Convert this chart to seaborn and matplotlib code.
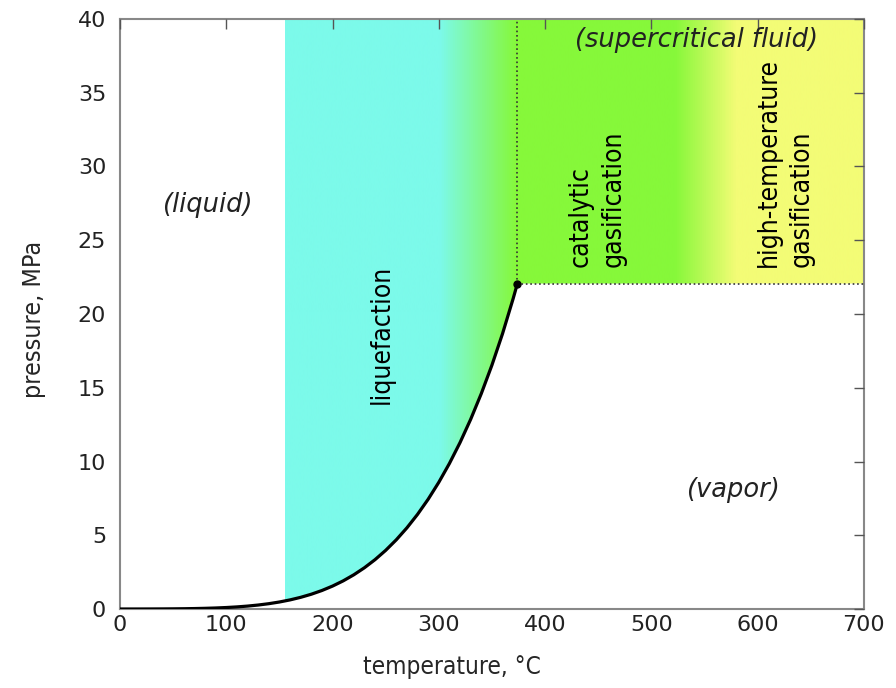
import numpy as np
import matplotlib
matplotlib.use('Agg')
import matplotlib.pyplot as plt
import seaborn as sns
from matplotlib.colors import LinearSegmentedColormap
from matplotlib.patches import Polygon

# saturation curve of water (temperature in C, pressure in MPa)
sat_T = [0, 10, 20, 30, 40, 50, 60, 70, 80, 90, 100, 110, 120, 130, 140, 150, 160,
         170, 180, 190, 200, 210, 220, 230, 240, 250, 260, 270, 280, 290, 300, 310,
         320, 330, 340, 350, 360, 370, 374]
sat_P = [0.0006, 0.0012, 0.0023, 0.0042, 0.0074, 0.0123, 0.0199, 0.0312, 0.0474,
         0.0701, 0.1014, 0.1434, 0.1987, 0.2703, 0.3615, 0.4762, 0.6182, 0.7922,
         1.0028, 1.2552, 1.5549, 1.9077, 2.3196, 2.7971, 3.3469, 3.9762, 4.6923,
         5.5030, 6.4166, 7.4418, 8.5879, 9.8651, 11.284, 12.858, 14.601, 16.529,
         18.666, 21.044, 22.064]
crit_T, crit_P = 374, 22.064

# shaded process band and its colour stops
band_start, band_end, p_top = 155, 700, 40
grad_T = [155, 300, 372, 522, 580, 700]
grad_colors = ['#7cfaea', '#7cfaea', '#86f83a', '#86f83a', '#f3fc76', '#f3fc76']

x_ticks = [0, 100, 200, 300, 400, 500, 600, 700]
y_ticks = [0, 5, 10, 15, 20, 25, 30, 35, 40]

sns.set_theme(style='white')
plt.rcParams['font.family'] = ['DejaVu Sans']
plt.rcParams['axes.axisbelow'] = False

fig = plt.figure(figsize=(8.96, 6.88), dpi=100)
ax = fig.add_axes([0.134, 0.1148, 0.830, 0.8576])

# gradient band clipped to liquid / supercritical region
T_fine = np.linspace(band_start, crit_T, 300)
P_fine = np.interp(T_fine, sat_T, sat_P)
verts = list(zip(T_fine, P_fine)) + [(band_end, crit_P), (band_end, p_top), (band_start, p_top)]
clip = Polygon(verts, closed=True, facecolor='none', edgecolor='none')
ax.add_patch(clip)
pos = [(t - band_start) / (band_end - band_start) for t in grad_T]
cmap = LinearSegmentedColormap.from_list('band', list(zip(pos, grad_colors)))
img = ax.imshow(np.linspace(0, 1, 1000)[None, :], cmap=cmap, aspect='auto',
                extent=[band_start, band_end, 0, p_top], origin='lower', zorder=0.5)
img.set_clip_path(clip)

# saturation curve
sns.lineplot(x=sat_T, y=sat_P, color='black', lw=2.3, ax=ax, zorder=4)
ax.plot([crit_T], [crit_P], 'o', color='black', ms=5, zorder=5)
ax.plot([crit_T, crit_T], [crit_P, p_top], ls=':', color='#333333', lw=1.2, zorder=3)
ax.plot([crit_T, band_end], [crit_P, crit_P], ls=':', color='#333333', lw=1.2, zorder=3)

ax.set_xlim(0, 700)
ax.set_ylim(0, 40)
ax.set_xticks(x_ticks)
ax.set_yticks(y_ticks)
ax.tick_params(direction='in', length=7, width=1, color='#555555', labelsize=16,
               top=True, right=True, labelcolor='#222222')
ax.tick_params(axis='x', pad=4)
ax.tick_params(axis='y', pad=10)
for s in ax.spines.values():
    s.set_color('#888888')
    s.set_linewidth(1.5)

ax.set_xlabel('temperature, °C', fontsize=17.5, fontstretch='condensed')
ax.set_ylabel('pressure, MPa', fontsize=18, fontstretch='condensed')
ax.xaxis.set_label_coords(0.446, -0.078)
ax.yaxis.set_label_coords(-0.10, 0.49)

# region labels
it = dict(style='italic', fontsize=18.5, color='#222222', ha='center', va='center', zorder=6)
ax.text(82, 27.4, '(liquid)', **it)
ax.text(577, 8.1, '(vapor)', **it)
ax.text(543, 38.6, '(supercritical fluid)', **it)
rot = dict(rotation=90, fontsize=19, fontstretch='condensed', ha='center', va='center',
           linespacing=1.35, color='black', zorder=6)
ax.text(246, 18.6, 'liquefaction', **rot)
rot.update(va='bottom', multialignment='left')
ax.text(449, 23.2, 'catalytic\ngasification', **rot)
ax.text(626, 23.2, 'high-temperature\ngasification', **rot)

fig.savefig('out.png', dpi=100)
